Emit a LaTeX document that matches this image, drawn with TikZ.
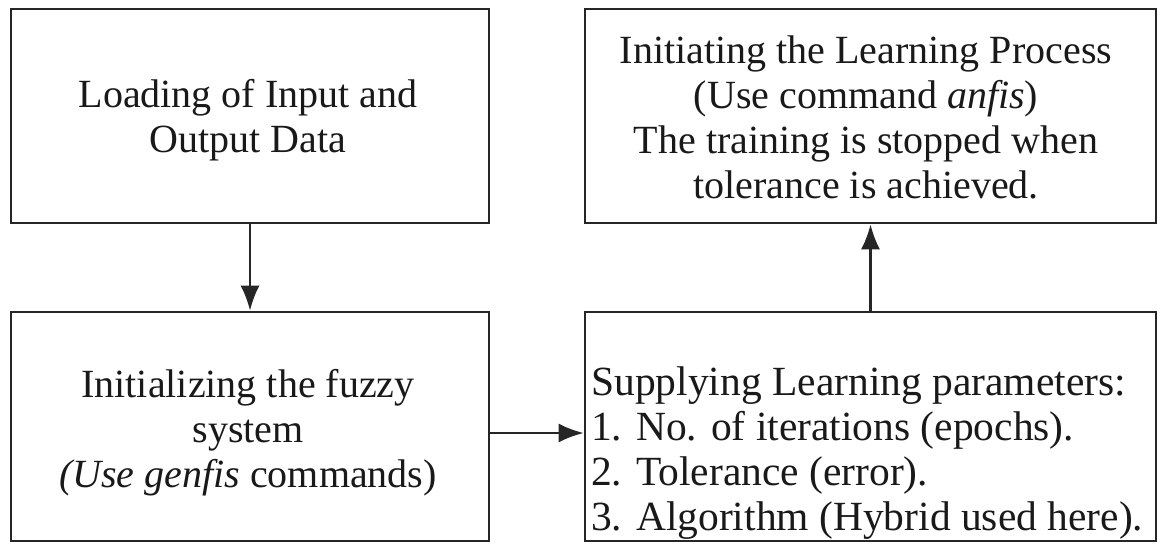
\documentclass[tikz,border=0pt]{standalone}
\usepackage{fontspec}
\setmainfont{Liberation Serif}
\usetikzlibrary{arrows.meta}
\begin{document}
\begin{tikzpicture}[x=1pt,y=-1pt,
  box/.style={draw=black!85, line width=2.6pt, rectangle, inner sep=0pt},
  txt/.style={inner sep=0pt, font=\fontsize{40}{45}\selectfont, text=black!90},
  conn/.style={draw=black!85, line width=2.4pt, -{Latex[length=25pt,width=19pt]}}]
\useasboundingbox (0,0) rectangle (1158,543);
\node[box, minimum width=478pt, minimum height=214pt] (load) at (250,116) {};
\node[box, minimum width=478pt, minimum height=229pt] (init) at (250,426.5) {};
\node[box, minimum width=571pt, minimum height=214pt] (learn) at (870.5,116) {};
\node[box, minimum width=571pt, minimum height=229pt] (supply) at (870.5,426.5) {};
\node[txt, align=center] (t1) at (248,120) {Loading of Input and\\Output Data};
\node[txt, align=center] (t2) at (248,432.5) {Initializing the fuzzy\\system\\\textit{(Use genfis} commands)};
\node[txt, align=center] (t3) at (866,117) {Initiating the Learning Process\\(Use command \textit{anfis})\\The training is stopped when\\tolerance is achieved.};
\node[txt, align=left, anchor=west, font=\fontsize{41.5}{45}\selectfont] (t4) at (591,453) {Supplying Learning parameters:\\1. No. of iterations (epochs).\\2. Tolerance (error).\\3. Algorithm (Hybrid used here).};
\draw[conn] (load.south) -- (init.north);
\draw[conn] (supply.north) -- (learn.south);
\draw[conn] (init.east |- 0,433) -- (supply.west |- 0,433);
\end{tikzpicture}
\end{document}
